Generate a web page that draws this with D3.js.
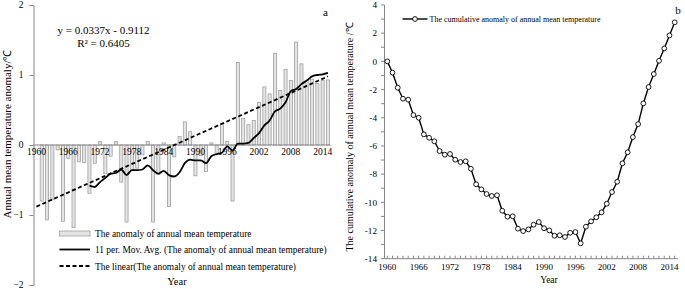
<!DOCTYPE html>
<html><head><meta charset="utf-8">
<script src="https://cdn.jsdelivr.net/npm/d3@7"></script>
<style>
html,body{margin:0;padding:0;background:#fff;}
svg text{font-family:"Liberation Serif","Times New Roman",serif;fill:#000;}
</style></head>
<body>
<svg id="chart" width="685" height="289"></svg>
<script>
const years = d3.range(1960, 2016);
const tickYears = [1960,1966,1972,1978,1984,1990,1996,2002,2008,2014];
const anomaly = [0,-0.80,-1.07,-0.78,-0.07,-1.09,-0.19,-1.18,-0.24,-0.25,
  -0.69,-0.26,0.05,-0.41,-0.16,0.05,-0.53,-1.10,-0.36,-0.33,
  -0.14,0.05,-1.10,-0.42,0.03,-0.88,-0.17,0.12,0.33,0.19,
  -0.44,-0.15,-0.38,0.03,-0.12,0.30,0.05,-0.80,1.18,0.38,
  0.29,0.35,0.61,0.83,0.73,1.31,0.78,1.08,0.92,1.47,
  1.16,0.92,0.94,0.88,0.92,0.93];
const maYears = d3.range(1970, 2016);
const maValues = [-0.58,-0.60,-0.53,-0.47,-0.41,-0.40,-0.35,-0.43,-0.36,-0.36,
  -0.35,-0.29,-0.36,-0.41,-0.37,-0.43,-0.45,-0.39,-0.26,-0.21,
  -0.22,-0.22,-0.26,-0.16,-0.13,-0.11,-0.02,-0.08,0.02,0.02,
  0.03,0.10,0.17,0.28,0.35,0.48,0.52,0.61,0.77,0.80,
  0.87,0.92,0.98,1.00,1.01,1.03];
const trendYears = [1960, 2015];
const trendValues = [-0.88, 0.98];
const cumulative = [0,-0.80,-1.87,-2.65,-2.72,-3.81,-4.00,-5.18,-5.42,-5.67,
  -6.36,-6.62,-6.57,-6.98,-7.14,-7.09,-7.62,-8.72,-9.08,-9.41,
  -9.55,-9.50,-10.60,-11.02,-10.99,-11.87,-12.04,-11.92,-11.59,-11.40,
  -11.84,-11.99,-12.37,-12.34,-12.46,-12.16,-12.11,-12.91,-11.73,-11.35,
  -11.06,-10.71,-10.10,-9.27,-8.54,-7.23,-6.45,-5.37,-4.45,-2.98,
  -1.82,-0.90,0.04,0.92,1.84,2.77];
const leftYTicks = [-2,-1,0,1,2];
const rightYTicks = [-14,-12,-10,-8,-6,-4,-2,0,2,4];
const rightYMinor = d3.range(-14, 5, 1);
const legendLeft = ["The anomaly of annual mean temperature",
  "11 per. Mov. Avg. (The anomaly of annual mean temperature)",
  "The linear(The anomaly of annual mean temperature)"];
const legendRight = "The cumulative anomaly of annual mean temperature";

const svg = d3.select("#chart");
const axisColor = "#868686";

// ---------- Panel a ----------
const xA = d3.scaleBand().domain(years).range([33.8, 330.6]).paddingInner(0.42).paddingOuter(0.21);
const yA = d3.scaleLinear().domain([-2, 2]).range([285, 5]);
const cx = d => xA(d) + xA.bandwidth() / 2;
const gA = svg.append("g");

gA.selectAll("rect.bar").data(years).join("rect")
  .attr("class","bar")
  .attr("x", d => xA(d))
  .attr("width", xA.bandwidth())
  .attr("y", (d,i) => yA(Math.max(0, anomaly[i])))
  .attr("height", (d,i) => Math.abs(yA(anomaly[i]) - yA(0)))
  .attr("fill", "#e4e4e4").attr("stroke", "#a0a0a0").attr("stroke-width", 0.8);

// y axis
const yAxisA = d3.axisLeft(yA).tickValues(leftYTicks).tickSize(4).tickPadding(6).tickFormat(d3.format("d"));
const gya = gA.append("g").attr("transform","translate(33.5,0)").call(yAxisA);
gya.select(".domain").attr("stroke", axisColor);
gya.selectAll(".tick line").attr("stroke", axisColor);
gya.selectAll("text").style("font-size","9.5px").style("font-family","Liberation Serif").attr("dy","0.3em");

// x axis at zero
gA.append("line").attr("x1",33.5).attr("x2",330.6).attr("y1",yA(0)).attr("y2",yA(0)).attr("stroke",axisColor);
gA.selectAll("text.xl").data(tickYears).join("text").attr("class","xl")
  .attr("x", d => cx(d)).attr("y", yA(0) + 10).attr("text-anchor","middle")
  .style("font-size","9.5px").text(d => d);

// trend line
gA.append("path").datum(trendYears.map((y,i)=>[y,trendValues[i]]))
  .attr("d", d3.line().x(d=>cx(d[0])).y(d=>yA(d[1])))
  .attr("fill","none").attr("stroke","#000").attr("stroke-width",1.8).attr("stroke-dasharray","4,2.5");
// moving average
gA.append("path").datum(maYears.map((y,i)=>[y,maValues[i]]))
  .attr("d", d3.line().x(d=>cx(d[0])).y(d=>yA(d[1])).curve(d3.curveMonotoneX))
  .attr("fill","none").attr("stroke","#000").attr("stroke-width",1.8);

// equation
gA.append("text").attr("x",103.5).attr("y",34).attr("text-anchor","middle").style("font-size","11px").text("y = 0.0337x - 0.9112");
gA.append("text").attr("x",103.5).attr("y",47).attr("text-anchor","middle").style("font-size","11px").text("R² = 0.6405");
gA.append("text").attr("x",325.5).attr("y",16).attr("text-anchor","middle").style("font-size","11px").text("a");

// legend
const lgA = gA.append("g");
lgA.append("rect").attr("x",59.5).attr("y",231).attr("width",30.5).attr("height",5).attr("fill","#e4e4e4").attr("stroke","#a0a0a0").attr("stroke-width",0.8);
lgA.append("line").attr("x1",59.5).attr("x2",90).attr("y1",249.5).attr("y2",249.5).attr("stroke","#000").attr("stroke-width",1.8);
lgA.append("line").attr("x1",59.5).attr("x2",90).attr("y1",266).attr("y2",266).attr("stroke","#000").attr("stroke-width",1.8).attr("stroke-dasharray","4,2.5");
lgA.selectAll("text").data(legendLeft).join("text")
  .attr("x",95).attr("y",(d,i)=>[236.5,253,269.5][i]).style("font-size","9.4px").text(d=>d);

gA.append("text").attr("x",177).attr("y",285).attr("text-anchor","middle").style("font-size","10.5px").text("Year");
gA.append("text").attr("transform","translate(11,134) rotate(-90)").attr("text-anchor","middle")
  .style("font-size","11px").text("Annual mean temperature anomaly/℃");

// ---------- Panel b ----------
const xB = d3.scalePoint().domain(years).range([387.3, 674.7]);
const yB = d3.scaleLinear().domain([-14, 4]).range([258.7, 5]);
const gB = svg.append("g");
// y axis
gB.append("line").attr("x1",384.5).attr("x2",384.5).attr("y1",yB(4)).attr("y2",yB(-14)).attr("stroke",axisColor);
gB.selectAll("line.ymin").data(rightYMinor).join("line").attr("class","ymin")
  .attr("x1",381).attr("x2",384.5).attr("y1",d=>yB(d)).attr("y2",d=>yB(d)).attr("stroke",axisColor);
gB.selectAll("text.yl").data(rightYTicks).join("text").attr("class","yl")
  .attr("x",377).attr("y",d=>yB(d)+3.2).attr("text-anchor","end").style("font-size","9.2px").text(d=>d);
// x axis
gB.append("line").attr("x1",384.5).attr("x2",678).attr("y1",yB(-14)).attr("y2",yB(-14)).attr("stroke",axisColor);
gB.selectAll("line.xt").data(years).join("line").attr("class","xt")
  .attr("x1",d=>xB(d)).attr("x2",d=>xB(d)).attr("y1",yB(-14)).attr("y2",yB(-14)-3).attr("stroke",axisColor);
gB.selectAll("text.xl").data(tickYears).join("text").attr("class","xl")
  .attr("x",d=>xB(d)).attr("y",yB(-14)+11).attr("text-anchor","middle").style("font-size","9px").text(d=>d);
// line
gB.append("path").datum(years.map((y,i)=>[y,cumulative[i]]))
  .attr("d", d3.line().x(d=>xB(d[0])).y(d=>yB(d[1])))
  .attr("fill","none").attr("stroke","#000").attr("stroke-width",1.4);
gB.selectAll("circle.pt").data(years).join("circle").attr("class","pt")
  .attr("cx",d=>xB(d)).attr("cy",(d,i)=>yB(cumulative[i])).attr("r",2.4)
  .attr("fill","#fff").attr("stroke","#000").attr("stroke-width",0.9);
// legend
gB.append("line").attr("x1",402.5).attr("x2",427.5).attr("y1",19).attr("y2",19).attr("stroke","#000").attr("stroke-width",1.4);
gB.append("circle").attr("cx",415).attr("cy",19).attr("r",2.4).attr("fill","#fff").attr("stroke","#000").attr("stroke-width",0.9);
gB.append("text").attr("x",429.5).attr("y",22).style("font-size","8px").text(legendRight);
gB.append("text").attr("x",678).attr("y",14).attr("text-anchor","middle").style("font-size","11px").text("b");
gB.append("text").attr("x",549).attr("y",283).attr("text-anchor","middle").style("font-size","9.5px").text("Year");
gB.append("text").attr("transform","translate(353,137) rotate(-90)").attr("text-anchor","middle")
  .style("font-size","10px").text("The cumulative anomaly of annual mean temperature /℃");
</script>
</body></html>
